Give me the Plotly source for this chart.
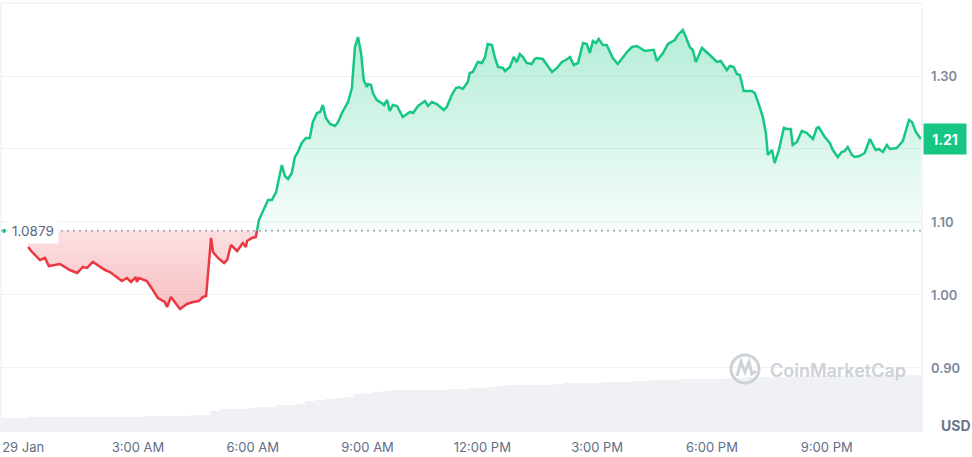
import plotly.graph_objects as go
import numpy as np

# ---------------- data ----------------
REF_PRICE = 1.0879

# hours since 29 Jan 00:00
price_hours = [
    0.13, 0.23, 0.44, 0.57, 0.67, 0.96, 1.22, 1.41, 1.56, 1.67, 1.82, 2.14, 2.27, 2.58, 2.71, 2.82,
    2.95, 2.97, 3.03, 3.23, 3.39, 3.52, 3.70, 3.76, 3.86, 3.97, 4.10, 4.28, 4.44, 4.59, 4.70, 4.78,
    4.91, 4.96, 5.09, 5.25, 5.33, 5.43, 5.48, 5.59, 5.74, 5.82, 5.85, 5.98, 6.08, 6.11,
    6.16, 6.40, 6.50, 6.61, 6.71, 6.76, 6.84, 6.92, 7.02, 7.10, 7.18, 7.28, 7.39, 7.49, 7.57, 7.68,
    7.76, 7.83, 7.91, 8.02, 8.15, 8.23, 8.33, 8.41, 8.49, 8.59, 8.67, 8.75, 8.83, 8.90, 8.98, 9.01,
    9.09, 9.14, 9.24, 9.37, 9.43, 9.51, 9.58, 9.66, 9.77, 9.92, 10.11, 10.19, 10.32, 10.50, 10.58, 10.68,
    10.81, 10.99, 11.07, 11.20, 11.31, 11.39, 11.49, 11.62, 11.67, 11.75, 11.88, 11.99, 12.07, 12.14, 12.25, 12.33,
    12.41, 12.54, 12.59, 12.72, 12.82, 12.90, 12.98, 13.06, 13.16, 13.29, 13.37, 13.42, 13.58, 13.69, 13.82, 13.95,
    14.08, 14.18, 14.29, 14.39, 14.50, 14.63, 14.73, 14.81, 14.89, 14.97, 15.04, 15.15, 15.25, 15.41, 15.54, 15.78,
    15.91, 16.04, 16.25, 16.43, 16.48, 16.56, 16.72, 16.85, 17.03, 17.11, 17.24, 17.32, 17.42, 17.50, 17.58, 17.74,
    17.87, 18.00, 18.13, 18.23, 18.39, 18.47, 18.57, 18.65, 18.73, 18.83, 19.04, 19.12, 19.25, 19.33, 19.41, 19.46,
    19.57, 19.64, 19.75, 19.88, 19.96, 20.06, 20.11, 20.22, 20.35, 20.48, 20.64, 20.74, 20.79, 20.95, 21.08, 21.16,
    21.29, 21.39, 21.47, 21.55, 21.66, 21.73, 21.86, 21.99, 22.13, 22.28, 22.36, 22.47, 22.57, 22.65, 22.83, 22.99,
    23.15, 23.23, 23.33, 23.46,
]
price_values = [
    1.0658, 1.0589, 1.0479, 1.0507, 1.0397, 1.0425, 1.0342, 1.0301, 1.0384, 1.0370, 1.0452, 1.0342, 1.0315, 1.0192, 1.0233, 1.0178,
    1.0247, 1.0178, 1.0233, 1.0192, 1.0068, 0.9959, 0.9904, 0.9836, 0.9973, 0.9890, 0.9808, 0.9877, 0.9904, 0.9918, 0.9973, 0.9986,
    1.0781, 1.0589, 1.0507, 1.0438, 1.0479, 1.0685, 1.0658, 1.0603, 1.0712, 1.0658, 1.0740, 1.0781, 1.0795, 1.0879,
    1.1027, 1.1301, 1.1301, 1.1411, 1.1685, 1.1781, 1.1630, 1.1589, 1.1671, 1.1890, 1.1959, 1.2082, 1.2151, 1.2151, 1.2370, 1.2493,
    1.2507, 1.2603, 1.2425, 1.2342, 1.2315, 1.2370, 1.2493, 1.2575, 1.2644, 1.2836, 1.3397, 1.3534, 1.3315, 1.2945, 1.2849, 1.2890,
    1.2877, 1.2767, 1.2671, 1.2630, 1.2603, 1.2671, 1.2521, 1.2603, 1.2589, 1.2438, 1.2507, 1.2493, 1.2589, 1.2658, 1.2589, 1.2644,
    1.2616, 1.2534, 1.2575, 1.2740, 1.2836, 1.2849, 1.2822, 1.2918, 1.3041, 1.3055, 1.3192, 1.3178, 1.3260, 1.3438, 1.3425, 1.3247,
    1.3123, 1.3110, 1.3068, 1.3123, 1.3260, 1.3192, 1.3301, 1.3260, 1.3178, 1.3164, 1.3233, 1.3247, 1.3233, 1.3151, 1.3055, 1.3110,
    1.3192, 1.3219, 1.3260, 1.3151, 1.3178, 1.3452, 1.3438, 1.3315, 1.3479, 1.3452, 1.3507, 1.3425, 1.3425, 1.3247, 1.3164, 1.3329,
    1.3397, 1.3411, 1.3342, 1.3356, 1.3356, 1.3205, 1.3315, 1.3438, 1.3493, 1.3562, 1.3630, 1.3534, 1.3397, 1.3356, 1.3192, 1.3384,
    1.3315, 1.3260, 1.3192, 1.3205, 1.3082, 1.3137, 1.3123, 1.3027, 1.3014, 1.2795, 1.2795, 1.2767, 1.2575, 1.2438, 1.2219, 1.1918,
    1.1986, 1.1808, 1.1986, 1.2288, 1.2274, 1.2274, 1.2055, 1.2096, 1.2247, 1.2219, 1.2137, 1.2288, 1.2301, 1.2164, 1.2082, 1.1986,
    1.1890, 1.1959, 1.1973, 1.2027, 1.1918, 1.1890, 1.1904, 1.1945, 1.2137, 1.1986, 1.2000, 1.1959, 1.2055, 1.2000, 1.2014, 1.2110,
    1.2397, 1.2370, 1.2233, 1.2137,
]

# volume bars, 15-minute buckets starting at 23:30 on 28 Jan (relative units)
VOL_START = -0.5
VOL_STEP = 0.25
volume_values = [
    3.3, 3.3, 3.3, 3.4,
    3.5, 3.5, 3.5, 3.5, 3.5, 3.5, 3.5, 3.5, 3.5, 3.5, 3.5,
    3.8, 3.8, 3.8, 3.8, 3.8, 3.9, 3.9,
    4.9,
    5.4, 5.4, 5.4, 5.5,
    5.8, 5.9,
    6.3, 6.4, 6.6, 7.2, 7.5, 7.7, 7.9, 8.2, 8.8, 9.0, 9.4, 9.6, 9.7,
    9.8, 9.8, 9.8, 9.8, 9.9,
    10.0, 10.0, 10.2, 10.3, 10.6, 10.7,
    11.0, 11.0, 11.0, 11.0, 11.0, 11.1,
    11.4, 11.4, 11.4, 11.5,
    11.7, 11.7, 11.7, 11.8,
    12.0, 12.1, 12.1, 12.2,
    12.4, 12.4, 12.4, 12.4, 12.4, 12.5,
    12.7, 12.8, 12.8, 12.8, 12.8, 12.8, 12.9,
    13.0, 13.1, 13.1, 13.1, 13.1, 13.1,
    13.2, 13.3, 13.3, 13.3, 13.3, 13.3, 13.3,
]

x_tick_hours = [0, 3, 6, 9, 12, 15, 18, 21]
x_tick_labels = ["29 Jan", "3:00 AM", "6:00 AM", "9:00 AM", "12:00 PM", "3:00 PM", "6:00 PM", "9:00 PM"]
y_tick_values = [0.90, 1.00, 1.10, 1.20, 1.30]

X_RANGE = [-0.58, 23.49]
Y_RANGE = [0.8123, 1.40]

GREEN = "#16c784"
RED = "#ea3943"
FONT = "Inter"

# ---------------- build ----------------
hours = np.array(price_hours)
prices = np.array(price_values)
split = int(np.argmax(prices >= REF_PRICE))
red_h, red_p = hours[: split + 1], prices[: split + 1]
green_h, green_p = hours[split:], prices[split:]
last_price = prices[-1]

vol_hours = VOL_START + VOL_STEP * np.arange(len(volume_values))

fig = go.Figure()

fig.add_trace(go.Bar(
    x=vol_hours, y=volume_values, yaxis="y2",
    marker=dict(color="#f0f1f5", line=dict(width=0)),
    hoverinfo="skip", showlegend=False,
))

# red segment (below reference)
fig.add_trace(go.Scatter(
    x=[red_h[0], red_h[-1]], y=[REF_PRICE, REF_PRICE], mode="lines",
    line=dict(width=0), hoverinfo="skip", showlegend=False,
))
fig.add_trace(go.Scatter(
    x=red_h, y=red_p, mode="lines", line=dict(color=RED, width=2.5),
    fill="tonexty",
    fillgradient=dict(type="vertical",
                      colorscale=[[0, "rgba(234,57,67,0.32)"], [1, "rgba(234,57,67,0.16)"]],
                      start=float(red_p.min()), stop=REF_PRICE),
    showlegend=False,
))

# green segment (above reference)
fig.add_trace(go.Scatter(
    x=[green_h[0], green_h[-1]], y=[REF_PRICE, REF_PRICE], mode="lines",
    line=dict(width=0), hoverinfo="skip", showlegend=False,
))
fig.add_trace(go.Scatter(
    x=green_h, y=green_p, mode="lines", line=dict(color=GREEN, width=2.5),
    fill="tonexty",
    fillgradient=dict(type="vertical",
                      colorscale=[[0, "rgba(22,199,132,0.04)"], [1, "rgba(22,199,132,0.32)"]],
                      start=REF_PRICE, stop=float(green_p.max())),
    showlegend=False,
))

y_tick_text = ["" if abs(v - last_price) < 0.03 else f"{v:.2f}" for v in y_tick_values]

fig.update_layout(
    width=972, height=457,
    margin=dict(l=1, r=50, t=3, b=25),
    paper_bgcolor="white", plot_bgcolor="white",
    bargap=0.0,
    showlegend=False,
    xaxis=dict(
        range=X_RANGE, tickvals=x_tick_hours, ticktext=x_tick_labels,
        showgrid=False, zeroline=False, showline=False, ticks="",
        tickfont=dict(family=FONT, size=13, color="#616e85"),
        ticklabelstandoff=6,
    ),
    yaxis=dict(
        range=Y_RANGE, side="right", tickvals=y_tick_values, ticktext=y_tick_text,
        showgrid=True, gridcolor="#eff2f5", gridwidth=1, zeroline=False, ticks="",
        tickfont=dict(family=FONT, size=13, color="#808a9d", weight=600),
        ticklabelstandoff=8,
    ),
    yaxis2=dict(range=[0, 100], overlaying="y", visible=False),
    shapes=[
        dict(type="path", xref="paper", yref="paper", path="M 0,0 L 0,1 L 1,1 L 1,0",
             line=dict(color="#e9ebef", width=1), layer="above"),
        dict(type="line", xref="paper", yref="y", x0=0, x1=1, y0=REF_PRICE, y1=REF_PRICE,
             line=dict(color="#9aa2b1", width=1.5, dash="2px,4px"), layer="above"),
        dict(type="circle", xref="paper", yref="y", x0=0.0015, x1=0.0055,
             y0=REF_PRICE - 0.003, y1=REF_PRICE + 0.003,
             fillcolor=GREEN, line=dict(width=0), layer="above"),
        dict(type="circle", xref="paper", yref="paper", x0=0.7926, x1=0.8230, y0=0.1142, y1=0.1795,
             line=dict(color="#cdd1d8", width=3), layer="above"),
        dict(type="path", xref="paper", yref="paper",
             path="M 0.7991,0.1305 L 0.8035,0.1632 L 0.8078,0.1399 L 0.8122,0.1632 L 0.8154,0.1352 L 0.8198,0.1422",
             line=dict(color="#cdd1d8", width=3), layer="above"),
    ],
    annotations=[
        dict(xref="paper", yref="y", x=0.0065, y=REF_PRICE, xanchor="left", yanchor="middle",
             text=f"{REF_PRICE:.4f}", showarrow=False, bgcolor="white", borderpad=4,
             font=dict(family=FONT, size=13.5, color="#58667e")),
        dict(xref="paper", yref="y", x=1, y=last_price, xanchor="left", yanchor="middle", xshift=1,
             text=f"<b>{last_price:.2f}</b>", showarrow=False, bgcolor=GREEN, borderpad=6,
             width=30, height=18,
             font=dict(family=FONT, size=14, color="white")),
        dict(xref="paper", yref="paper", x=1.0185, y=0.014, xanchor="left", yanchor="middle",
             text="<b>USD</b>", showarrow=False,
             font=dict(family=FONT, size=14, color="#6b768a")),
        dict(xref="paper", yref="paper", x=0.833, y=0.1445, xanchor="left", yanchor="middle",
             text="CoinMarketCap", showarrow=False,
             font=dict(family=FONT, size=18, color="#cdd1d8", weight=600)),
    ],
)

fig.write_html("out.html", config={"displayModeBar": False},
               post_script="document.body.style.margin='0';document.body.style.overflow='hidden';")
